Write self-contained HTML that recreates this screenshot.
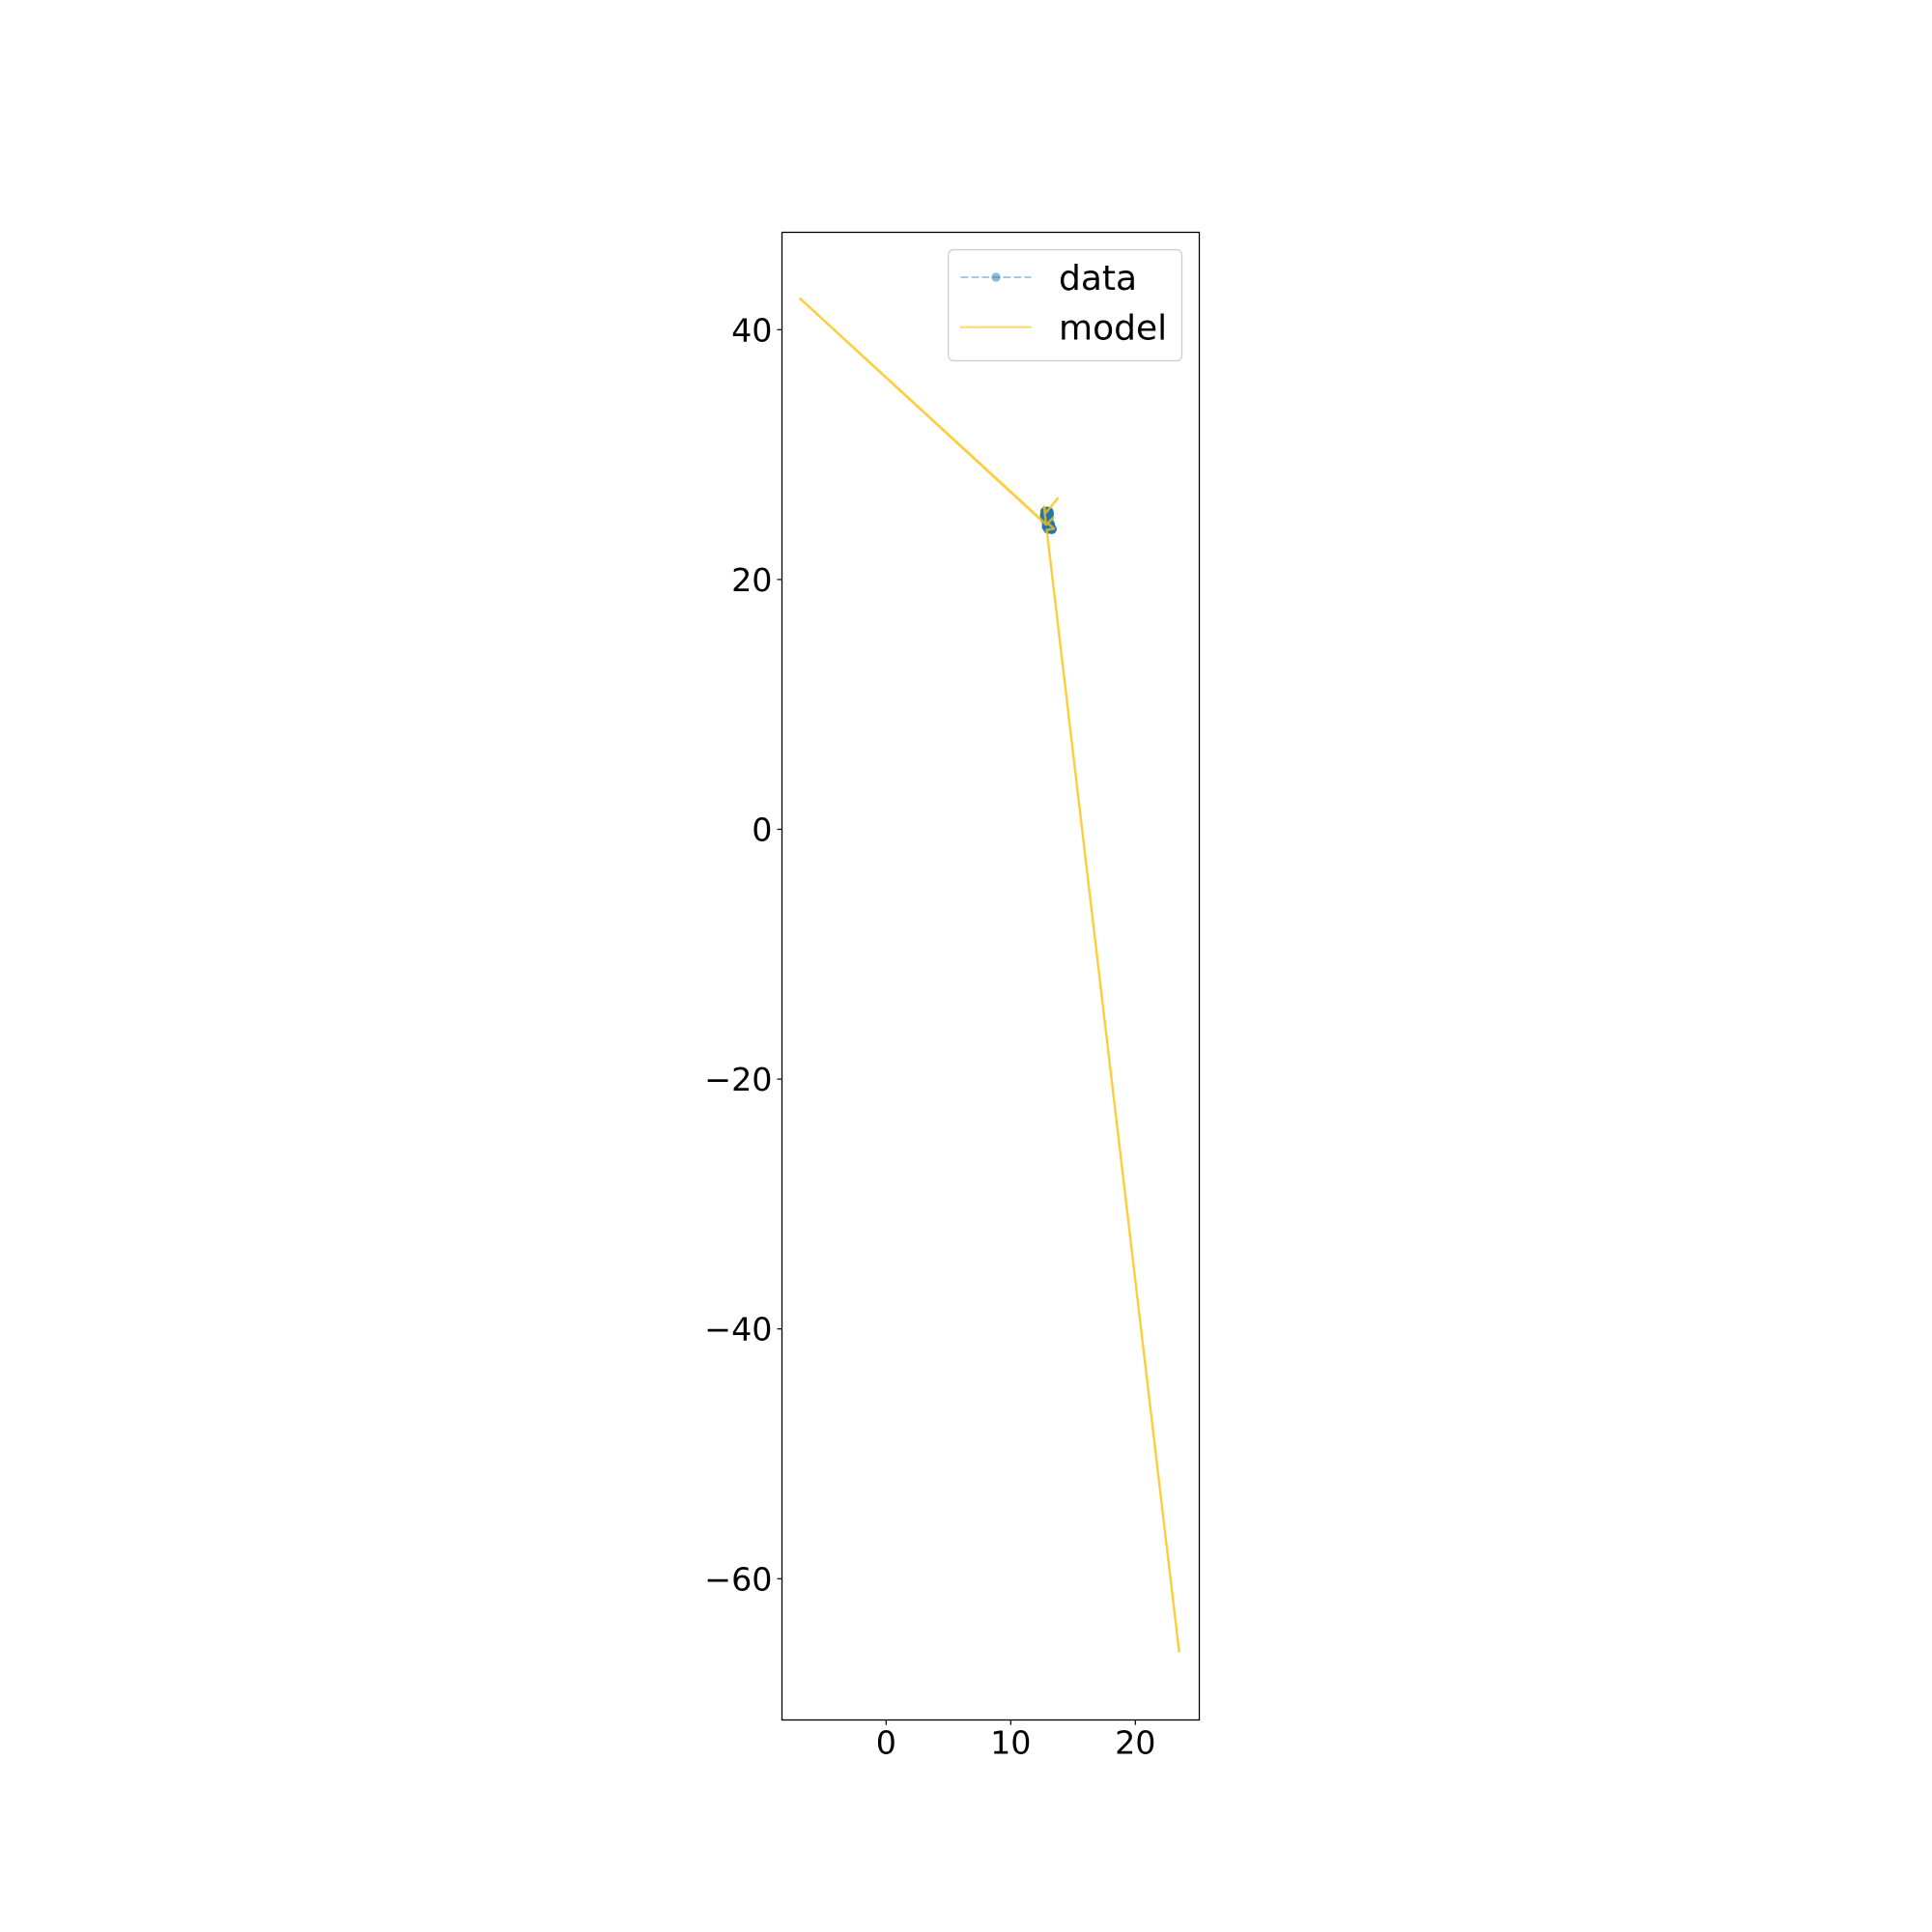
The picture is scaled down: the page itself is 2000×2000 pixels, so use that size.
<!DOCTYPE html>
<html lang="en">
<head>
<meta charset="utf-8">
<title>Data and model trajectory</title>
<style>
html,body{margin:0;padding:0;background:#fff;}
svg{display:block;}
text{font-family:"DejaVu Sans","Liberation Sans",sans-serif;fill:#000;}
</style>
</head>
<body>
<svg id="chart" xmlns="http://www.w3.org/2000/svg" width="2000" height="2000" viewBox="0 0 2000 2000">
  <rect x="0" y="0" width="2000" height="2000" fill="#fff"/>
  <g id="ticks"></g>
  <g id="marks"></g>
  <rect x="809.5" y="240.5" width="432" height="1540" fill="none" stroke="#000" stroke-width="1.3"/>
  <g>
    <rect x="981.7" y="258.5" width="241.8" height="115" rx="5.5" ry="5.5" fill="#fff" fill-opacity="0.8" stroke="#ccc" stroke-width="1.2"/>
    <g>
      <line x1="994.5" y1="287" x2="1067.5" y2="287" stroke="#1f77b4" stroke-opacity="0.4" stroke-width="2.1" stroke-dasharray="7.7 3.3"/>
      <circle cx="1031" cy="287" r="4.7" fill="#1f77b4" fill-opacity="0.5"/>
      <text x="1096" y="300" font-size="36">data</text>
    </g>
    <g>
      <line x1="994" y1="338.7" x2="1068" y2="338.7" stroke="#ffc107" stroke-opacity="0.6" stroke-width="2.1"/>
      <text x="1096" y="351.7" font-size="36">model</text>
    </g>
  </g>
</svg>
<script>
// Chart data
const xTickValues = [0, 10, 20];
const yTickValues = [-60, -40, -20, 0, 20, 40];
const dataX = [12.76, 13.06, 12.74, 13.07, 12.76, 13.06, 12.90, 12.88, 13.00, 13.30, 13.15, 12.80, 12.95, 12.74, 13.05, 12.76, 13.00, 12.90, 12.90, 13.05, 13.28, 13.12, 12.76, 13.00, 12.74, 13.07, 12.76, 13.04, 12.86, 12.90, 13.02, 13.30, 13.18];
const dataY = [25.44, 25.40, 25.15, 25.20, 24.84, 24.90, 24.59, 24.25, 24.05, 24.03, 24.38, 25.40, 25.44, 25.05, 25.10, 24.90, 24.95, 24.55, 24.30, 24.05, 24.04, 24.35, 25.42, 25.44, 25.20, 25.25, 24.95, 24.85, 24.62, 24.20, 24.10, 24.03, 24.40];
const modelX = [13.82, 12.84, 12.66, 12.84, -6.89, 12.84, 13.43, 12.97, 13.48, 12.89, 23.52];
const modelY = [26.57, 25.36, 25.85, 24.43, 42.48, 24.38, 24.97, 24.51, 24.07, 23.97, -65.90];

// Axis functions
const X_ORIGIN = 917.3, Y_ORIGIN = 858.5, UNIT_X = 12.9, UNIT_Y = 12.93;
function xScale(v) { return X_ORIGIN + v * UNIT_X; }
function yScale(v) { return Y_ORIGIN - v * UNIT_Y; }
function formatTick(v) { return v < 0 ? '\u2212' + Math.abs(v) : String(v); }

const NS = 'http://www.w3.org/2000/svg';
const ticksGroup = document.getElementById('ticks');
const marksGroup = document.getElementById('marks');

xTickValues.forEach(function (v) {
  const px = xScale(v);
  const tick = document.createElementNS(NS, 'line');
  
  
  tick.setAttribute('x1', px);
  tick.setAttribute('x2', px);
  tick.setAttribute('y1', 1780.5);
  tick.setAttribute('y2', 1785.7);
  tick.setAttribute('stroke', '#000');
  tick.setAttribute('stroke-width', '1.2');
  ticksGroup.appendChild(tick);
  const label = document.createElementNS(NS, 'text');
  
  
  label.setAttribute('x', px);
  label.setAttribute('y', 1815.5);
  label.setAttribute('font-size', '33.33');
  label.setAttribute('text-anchor', 'middle');
  label.textContent = formatTick(v);
  ticksGroup.appendChild(label);
});

yTickValues.forEach(function (v) {
  const py = yScale(v);
  const tick = document.createElementNS(NS, 'line');
  
  
  tick.setAttribute('x1', 804.5);
  tick.setAttribute('x2', 809.5);
  tick.setAttribute('y1', py);
  tick.setAttribute('y2', py);
  tick.setAttribute('stroke', '#000');
  tick.setAttribute('stroke-width', '1.2');
  ticksGroup.appendChild(tick);
  const label = document.createElementNS(NS, 'text');
  
  
  label.setAttribute('x', 799.5);
  label.setAttribute('y', py + 12);
  label.setAttribute('font-size', '33.33');
  label.setAttribute('text-anchor', 'end');
  label.textContent = formatTick(v);
  ticksGroup.appendChild(label);
});

function polylinePoints(xs, ys) {
  return xs.map(function (x, i) { return xScale(x).toFixed(2) + ',' + yScale(ys[i]).toFixed(2); }).join(' ');
}

const dataLine = document.createElementNS(NS, 'polyline');


dataLine.setAttribute('points', polylinePoints(dataX, dataY));
dataLine.setAttribute('fill', 'none');
dataLine.setAttribute('stroke', '#1f77b4');
dataLine.setAttribute('stroke-opacity', '0.5');
dataLine.setAttribute('stroke-width', '2.1');
dataLine.setAttribute('stroke-dasharray', '7.7 3.3');
marksGroup.appendChild(dataLine);

dataX.forEach(function (x, i) {
  const point = document.createElementNS(NS, 'circle');
  
  
  point.setAttribute('cx', xScale(x));
  point.setAttribute('cy', yScale(dataY[i]));
  point.setAttribute('r', 5);
  point.setAttribute('fill', '#1f77b4');
  point.setAttribute('fill-opacity', '0.9');
  marksGroup.appendChild(point);
});

const modelLine = document.createElementNS(NS, 'polyline');


modelLine.setAttribute('points', polylinePoints(modelX, modelY));
modelLine.setAttribute('fill', 'none');
modelLine.setAttribute('stroke', '#ffc107');
modelLine.setAttribute('stroke-opacity', '0.8');
modelLine.setAttribute('stroke-width', '2.4');
modelLine.setAttribute('stroke-linejoin', 'round');
marksGroup.appendChild(modelLine);
</script>
</body>
</html>
